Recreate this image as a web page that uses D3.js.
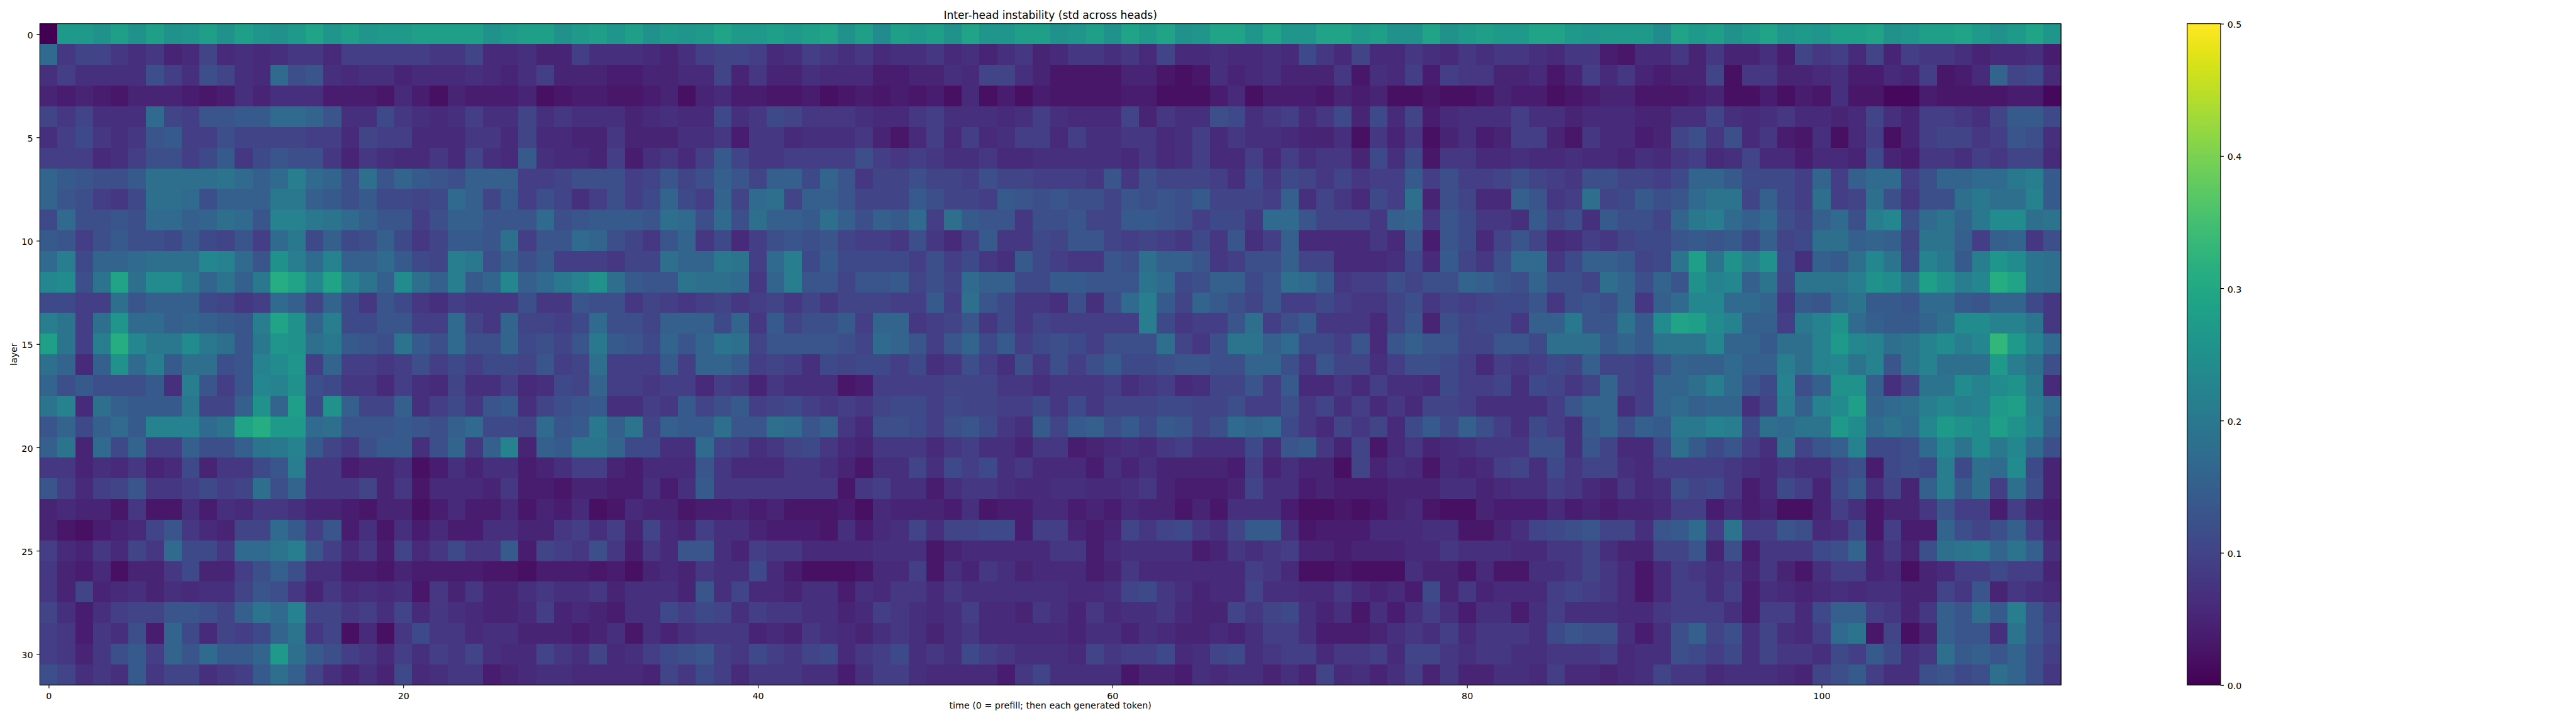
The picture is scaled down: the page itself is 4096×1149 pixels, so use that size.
<!DOCTYPE html>
<html><head><meta charset="utf-8">
<script src="https://cdn.jsdelivr.net/npm/d3@7"></script>
<style>html,body{margin:0;padding:0;background:#fff;overflow:hidden}svg{display:block}text{font-family:"DejaVu Sans",sans-serif;fill:#000}</style>
</head><body><svg id="c" width="4096" height="1149"></svg>
<script>
// std values, in hundredths, one array per layer (114 time steps)
const layer00=[0,27,27,25,28,25,28,25,26,28,25,28,26,25,27,29,26,28,26,27,27,28,28,28,28,25,27,28,28,25,
27,28,26,28,25,27,26,27,29,27,27,28,27,28,29,25,28,24,28,27,28,25,29,26,26,28,28,25,26,28,25,29,27,
29,25,26,29,29,26,29,26,26,29,29,27,28,25,25,29,25,27,28,27,27,29,29,27,26,27,27,27,24,29,27,28,
25,27,29,26,27,26,28,28,29,25,26,28,28,29,27,25,27,29,26];
const layer01=[17,8,10,10,8,7,8,5,6,10,6,7,6,7,8,8,6,9,9,9,9,9,8,8,10,6,6,7,5,5,
9,7,7,7,6,5,7,9,10,10,9,6,7,9,8,7,8,6,7,7,8,6,7,5,7,8,5,6,8,8,7,8,6,
10,6,6,7,6,6,7,6,11,8,6,10,6,6,8,7,6,8,7,8,8,7,6,8,8,4,3,6,6,8,5,8,
5,5,7,4,10,8,9,6,10,5,9,8,8,7,5,6,6,7,4];
const layer02=[7,9,7,7,7,7,12,9,7,12,10,7,6,17,12,13,7,6,7,7,5,6,6,6,7,6,5,7,9,5,
5,5,4,4,5,5,6,6,10,5,8,5,5,7,6,6,6,4,4,5,5,7,6,10,10,7,5,3,3,3,3,5,5,
3,2,3,7,5,6,7,5,5,5,8,3,7,6,9,4,9,8,8,5,5,6,3,5,9,6,8,5,4,5,5,10,
2,8,8,5,5,6,7,4,4,6,5,9,3,4,6,16,10,11,6];
const layer03=[5,4,5,4,3,5,5,5,4,3,4,7,5,7,7,7,4,4,4,3,6,4,2,5,4,4,4,5,2,3,
4,4,3,3,4,5,2,5,6,4,4,3,3,4,2,3,4,3,4,3,4,2,6,2,4,2,4,3,3,3,3,4,4,
2,2,2,4,6,2,4,4,4,3,5,4,5,2,2,3,2,2,3,5,4,4,2,3,4,5,5,3,3,3,4,5,
2,2,4,2,4,3,7,3,3,1,1,4,3,3,3,3,4,4,1];
const layer04=[10,8,10,7,7,7,17,10,9,13,13,14,14,17,17,16,13,7,7,11,8,7,6,7,9,7,7,10,7,8,
7,7,7,5,6,7,6,6,11,7,8,11,10,8,8,8,7,6,6,8,9,7,7,7,6,7,9,7,6,6,6,10,5,
8,7,7,12,11,7,8,9,6,8,11,5,11,6,10,4,6,7,7,7,9,7,7,5,6,6,6,5,5,7,7,10,
7,6,7,8,6,6,5,6,10,7,5,9,9,8,7,10,14,14,11];
const layer05=[7,9,11,8,7,8,13,14,9,9,12,10,10,10,10,9,9,6,10,9,9,6,6,6,8,8,6,10,6,6,
5,5,8,5,5,5,7,7,8,4,8,8,6,7,7,7,8,5,3,6,9,6,9,6,7,9,9,6,9,7,7,8,8,
6,7,9,6,8,7,7,6,5,5,7,2,8,5,8,2,5,7,4,5,9,9,5,3,8,6,6,4,5,10,12,8,
12,6,8,4,3,7,2,6,9,2,5,9,10,10,8,9,13,12,7];
const layer06=[9,9,9,6,7,9,12,12,9,11,14,8,11,13,12,12,8,5,8,7,6,6,8,6,10,7,6,14,7,6,
6,5,9,4,7,8,6,9,14,10,8,8,9,9,9,9,12,9,8,9,8,7,7,8,6,6,7,7,7,7,7,6,8,
6,7,9,6,6,9,6,9,7,8,8,5,11,7,11,3,8,8,6,6,7,6,6,7,6,6,5,7,6,8,9,6,
7,10,6,6,4,6,6,5,11,5,4,8,8,7,9,8,10,10,6];
const layer07=[16,14,13,12,12,14,18,18,18,18,19,17,15,17,21,17,16,12,18,13,16,14,13,12,15,15,15,9,9,10,
12,12,12,9,10,13,10,12,15,13,10,15,15,11,16,13,8,10,10,12,10,10,9,12,10,10,9,9,9,8,13,8,12,
10,10,10,9,7,11,8,11,10,8,10,8,9,9,14,9,12,9,9,10,12,10,9,8,12,12,10,10,9,11,16,16,
14,11,11,11,9,16,9,15,17,17,9,12,16,16,17,17,20,21,14];
const layer08=[16,13,12,9,8,11,18,18,17,12,15,15,15,20,20,15,14,12,14,11,11,10,11,17,15,10,14,9,12,10,
7,9,12,9,11,16,11,9,16,10,17,18,10,15,15,13,10,10,10,14,12,10,10,9,14,13,12,13,12,12,10,13,12,
13,12,14,10,10,10,9,15,7,10,8,6,11,9,18,5,12,10,6,6,15,13,8,9,18,10,11,14,12,13,17,19,
19,10,15,11,9,18,9,10,18,12,8,12,12,18,20,18,18,22,14];
const layer09=[11,17,12,12,13,12,17,17,15,16,18,17,13,22,22,20,19,17,15,13,13,9,12,15,15,13,13,13,17,12,
13,14,14,14,13,18,17,12,17,12,18,15,15,14,18,15,12,15,14,17,9,18,14,13,13,8,12,12,13,10,10,14,14,
13,12,9,11,11,8,17,17,13,10,10,10,8,15,16,8,13,11,8,8,7,14,10,12,7,14,12,12,10,16,20,21,
17,15,17,12,10,15,17,12,21,23,12,17,19,16,20,24,24,18,19];
const layer10=[14,13,9,12,14,12,12,11,14,11,10,13,9,17,20,11,15,11,12,15,11,8,10,14,14,13,18,9,13,13,
17,16,12,10,8,13,16,8,11,6,9,12,13,12,13,10,9,9,8,12,8,6,9,14,8,8,11,10,13,13,10,9,10,
9,8,11,8,13,7,9,15,6,6,6,6,8,6,13,4,13,11,6,10,13,10,6,7,9,8,10,11,11,13,14,13,
14,11,15,10,11,18,18,15,16,15,10,19,19,15,9,15,16,8,12];
const layer11=[17,21,11,16,16,17,18,18,18,23,22,17,13,25,21,17,22,15,15,17,14,11,10,21,20,12,15,12,14,9,
9,9,8,10,10,18,16,16,20,19,9,17,21,11,14,11,11,11,11,9,12,9,11,8,7,14,11,9,8,8,13,12,18,
15,15,13,8,9,12,12,15,10,10,6,6,6,7,11,6,14,10,8,12,17,17,8,11,15,15,14,10,11,19,28,19,
25,21,25,11,7,15,14,18,23,19,11,22,20,14,21,26,24,19,18];
const layer12=[23,24,12,19,29,18,24,24,20,16,19,15,20,31,29,23,29,22,19,15,24,18,15,21,14,16,23,15,17,20,
22,25,18,14,13,13,19,18,18,17,8,16,21,13,13,10,13,13,14,10,12,10,17,15,15,11,11,14,14,13,13,13,19,
17,11,12,15,15,11,13,18,17,14,8,9,9,12,10,12,12,16,15,13,12,16,12,12,10,18,16,12,16,13,25,22,
23,15,19,10,19,19,19,21,25,24,19,28,25,21,23,31,29,19,18];
const layer13=[11,11,9,9,18,13,15,15,15,11,10,8,9,17,15,10,16,11,8,13,11,8,7,9,8,8,8,12,8,8,
13,12,12,8,10,9,8,9,10,8,9,10,8,10,8,10,10,10,9,9,14,9,18,13,11,8,8,7,12,7,12,17,21,
14,10,16,14,12,10,13,9,9,11,9,8,8,10,12,8,10,9,10,11,11,13,8,12,13,12,16,8,15,17,23,23,
17,17,16,8,14,13,17,19,14,14,13,17,17,14,13,16,16,11,8];
const layer14=[21,19,9,18,26,17,17,15,16,15,14,13,21,29,25,16,21,11,11,13,13,9,9,17,10,8,16,10,10,9,
11,17,12,12,10,15,15,15,11,16,8,14,10,12,12,14,9,16,16,8,9,10,13,8,11,8,10,9,9,9,9,9,21,
11,8,9,9,13,18,9,12,14,8,8,8,6,10,13,5,12,10,11,11,8,15,15,20,13,13,19,14,24,29,28,24,
22,15,15,9,20,22,25,17,15,14,14,16,18,24,24,22,22,19,8];
const layer15=[28,19,9,21,31,23,20,20,24,20,18,13,20,26,25,18,20,14,13,12,19,14,12,17,12,12,16,11,12,10,
13,20,14,13,11,16,13,16,19,18,10,13,13,13,13,12,10,17,16,13,9,13,16,11,14,9,11,12,11,9,12,12,12,
18,10,8,12,19,19,15,17,11,11,9,13,6,13,15,13,13,10,10,13,13,11,18,18,18,14,16,14,19,19,19,23,
16,16,14,18,18,22,27,23,22,18,19,22,24,21,23,33,27,22,17];
const layer16=[18,16,6,15,25,17,21,14,18,18,12,13,22,24,26,9,16,9,9,8,9,12,9,11,9,11,11,10,13,9,
10,18,9,9,9,14,9,16,16,14,9,10,9,7,11,10,11,11,9,11,7,8,12,9,7,12,8,12,9,12,14,11,11,
12,13,13,12,12,16,16,12,8,13,10,10,7,9,12,12,11,9,6,9,8,9,11,10,15,10,10,9,13,16,15,15,
17,15,15,21,18,22,23,19,22,13,19,22,18,18,18,27,21,18,12];
const layer17=[16,12,14,12,12,12,14,7,21,13,9,13,23,22,25,12,11,8,8,6,9,7,6,10,7,7,9,6,7,11,
10,16,9,9,8,9,9,6,9,8,5,8,7,7,7,3,4,9,9,9,9,10,10,10,8,8,7,8,8,8,9,7,8,
9,6,7,10,10,13,9,14,6,6,8,6,9,7,7,6,11,9,9,10,7,11,10,8,10,16,10,9,16,16,18,21,
17,13,11,22,12,15,25,25,15,7,10,19,19,24,22,24,25,20,6];
const layer18=[19,22,6,18,15,14,14,14,20,10,10,15,25,16,28,11,25,15,10,10,15,7,9,11,8,13,14,7,10,12,
13,14,7,7,9,8,14,10,12,14,9,10,11,9,8,9,8,10,11,11,9,11,10,10,9,9,11,8,11,8,10,10,10,
11,11,10,10,12,9,9,12,8,10,7,9,6,8,6,10,10,9,7,7,7,7,9,13,16,16,7,9,16,17,15,16,
16,7,10,21,15,22,24,28,16,17,18,21,23,21,22,27,28,21,17];
const layer19=[13,16,11,15,17,14,22,22,22,17,19,29,31,27,27,17,18,13,13,13,14,13,12,15,17,11,11,10,17,13,
14,20,15,19,10,15,14,14,18,13,13,18,17,13,15,8,6,12,12,11,9,12,13,11,8,7,14,10,14,15,12,14,11,
14,13,10,12,17,16,17,11,8,6,10,8,10,6,11,14,11,15,12,9,7,11,9,7,14,16,12,15,14,20,20,22,
21,11,18,17,19,19,27,24,17,19,17,23,27,25,24,28,25,22,15];
const layer20=[15,19,5,17,11,16,9,9,15,12,12,15,19,20,22,14,10,8,12,14,14,7,12,16,8,15,22,5,15,14,
19,19,16,11,11,7,7,17,10,9,7,8,10,11,8,6,5,8,8,8,6,8,9,7,7,5,8,8,4,5,6,7,6,
8,9,7,7,7,11,7,13,14,8,5,10,3,6,8,5,6,7,8,8,8,12,12,7,13,10,6,6,11,18,14,11,
13,9,7,18,10,13,15,22,11,11,12,17,23,19,24,20,23,17,12];
const layer21=[8,8,5,7,6,8,5,6,11,5,8,8,11,13,21,8,8,4,5,5,7,2,4,7,5,7,7,4,5,7,
9,9,5,4,6,6,6,13,8,6,6,6,8,8,7,5,3,7,7,10,7,11,9,11,7,8,6,6,6,4,7,5,7,
5,5,5,5,4,9,5,7,5,5,2,10,5,7,6,3,6,5,6,9,10,7,11,8,10,10,7,6,9,9,9,9,
8,7,6,8,7,7,10,12,4,11,12,11,21,11,18,17,24,11,5];
const layer22=[13,9,6,9,10,13,8,8,9,11,9,10,18,12,16,8,8,8,10,5,8,3,6,6,6,5,8,4,4,3,
5,5,4,4,7,4,7,14,8,8,8,8,8,8,8,3,8,9,7,7,4,7,8,8,7,6,6,7,7,6,6,7,8,
5,4,4,4,5,10,7,7,4,5,4,4,4,5,5,5,7,7,5,6,7,7,9,8,6,5,8,6,7,12,10,11,
8,4,6,11,9,5,11,14,7,10,5,15,21,14,18,9,18,12,5];
const layer23=[5,6,5,5,3,8,3,3,7,4,7,6,8,8,7,5,5,4,3,5,5,2,4,6,4,4,6,3,5,4,
6,2,3,6,5,5,3,4,4,5,4,5,3,3,3,4,2,6,5,5,5,4,7,3,4,4,6,6,4,5,4,6,5,
5,3,5,3,7,7,7,4,2,2,3,2,3,5,6,3,2,2,5,4,4,4,6,4,5,4,5,5,6,9,9,4,
6,4,5,2,2,5,9,7,3,5,5,8,13,9,9,4,9,5,4];
const layer24=[5,3,2,4,5,6,10,13,8,6,5,10,10,17,14,9,13,4,7,3,7,4,6,4,4,7,7,5,5,8,
9,7,9,5,10,6,5,9,7,7,5,4,4,4,3,7,4,6,7,10,7,10,10,11,11,4,9,9,5,4,5,10,8,
10,11,8,7,10,14,14,7,3,4,4,4,6,6,6,7,7,3,3,5,7,10,11,12,13,10,10,7,13,14,17,9,
19,9,9,13,12,6,7,11,3,9,4,4,16,12,10,12,15,9,5];
const layer25=[9,6,5,8,6,10,8,17,11,11,8,17,17,19,21,13,9,6,8,4,10,6,8,11,8,8,14,4,10,9,
8,12,8,4,8,6,13,13,7,5,9,8,8,6,6,6,6,7,7,7,3,5,6,6,6,6,6,8,8,4,6,7,7,
7,7,4,5,8,7,8,9,5,5,4,5,5,5,6,6,8,7,7,7,6,6,8,8,10,7,5,5,10,10,13,5,
12,4,8,8,8,11,12,16,5,8,5,12,18,19,20,16,19,15,7];
const layer26=[8,5,4,6,2,5,5,8,11,5,5,9,12,15,12,7,7,4,4,3,5,4,4,4,4,3,3,2,4,4,
4,3,4,2,5,6,5,8,7,7,11,6,4,2,2,2,3,6,6,9,3,7,5,8,7,5,6,6,6,4,5,8,6,
6,6,6,6,6,9,8,6,2,2,3,2,2,2,7,5,5,3,6,3,3,7,7,8,10,8,6,3,6,9,8,7,
8,5,8,5,3,7,9,9,5,6,2,5,6,9,9,11,9,9,5];
const layer27=[8,5,10,5,6,7,5,7,6,7,7,10,13,12,8,5,8,6,7,6,7,3,8,5,8,5,5,7,8,7,
7,8,5,7,7,7,5,13,7,10,6,6,5,7,7,4,7,6,8,8,6,8,7,7,7,7,7,7,6,6,7,10,11,
8,7,5,6,6,10,7,7,6,6,8,6,5,6,4,11,5,8,5,6,6,6,9,10,9,8,6,3,6,9,9,7,
9,4,7,6,5,6,7,6,7,7,5,5,10,8,13,5,8,7,6];
const layer28=[10,7,4,7,9,10,10,13,13,12,10,15,19,17,22,10,10,8,9,7,10,6,8,7,6,5,5,6,9,5,
6,5,4,7,7,11,9,11,10,7,9,8,8,7,7,5,6,9,8,7,6,7,9,6,6,5,8,7,5,8,6,7,7,
8,6,5,5,10,8,10,11,7,5,7,3,7,4,7,9,7,4,7,7,4,7,9,7,7,7,6,6,8,9,9,9,
7,4,9,9,6,11,15,15,9,8,5,8,15,13,18,14,21,13,9];
const layer29=[9,8,4,8,7,12,4,16,11,6,10,9,11,16,19,8,10,2,6,2,8,11,8,8,6,7,7,5,5,5,
4,5,7,3,7,5,7,8,8,8,5,6,5,8,7,6,5,7,8,7,5,7,8,6,6,6,6,6,5,7,7,5,7,
6,5,5,6,5,7,9,9,7,4,4,4,5,7,8,7,9,6,8,8,8,7,11,13,12,12,7,4,7,12,15,10,
12,7,10,7,6,9,17,19,3,10,2,5,15,13,13,7,19,13,10];
const layer30=[9,8,5,8,12,14,9,16,13,17,14,14,16,27,18,14,12,9,8,6,9,7,9,8,10,7,6,6,10,8,
7,10,6,7,9,11,12,13,9,8,11,9,8,10,11,6,8,9,11,7,8,7,11,9,8,7,7,7,6,10,8,9,9,
11,6,7,10,11,7,8,9,9,6,8,8,9,6,10,10,8,7,8,8,7,7,8,8,8,9,6,7,7,12,11,9,
11,7,10,8,8,7,11,9,14,11,7,8,18,14,15,13,16,12,9];
const layer31=[12,10,7,8,7,14,8,10,10,7,8,9,14,18,15,10,7,5,7,5,11,6,7,8,8,4,5,6,7,7,
6,6,6,6,5,10,8,11,9,6,8,8,8,7,7,4,7,9,9,7,6,6,6,6,4,8,10,7,7,7,7,3,5,
5,4,7,6,7,7,5,7,5,10,6,7,5,7,9,5,8,5,5,7,7,6,9,6,6,5,6,7,10,8,8,6,
7,7,7,6,5,10,12,14,9,7,7,12,13,11,12,18,16,12,8];
const layers=[layer00,layer01,layer02,layer03,layer04,layer05,layer06,layer07,layer08,layer09,layer10,layer11,layer12,layer13,layer14,layer15,layer16,layer17,layer18,layer19,layer20,layer21,layer22,layer23,layer24,layer25,layer26,layer27,layer28,layer29,layer30,layer31];
const xTicks=[0,20,40,60,80,100];
const yTicks=[0,5,10,15,20,25,30];
const colorTicks=[0,0.1,0.2,0.3,0.4,0.5];
const titleText="Inter-head instability (std across heads)";
const xLabelText="time (0 = prefill; then each generated token)";
const yLabelText="layer";

const K=4096/7182;
const L=111*K,R=5746*K,T=66*K,B=1909*K,CL=6098*K,CR=6191*K;
const FS=25*K,TFS=30*K,LW=2*K,TL=9*K;
const svg=d3.select("#c");
const x=d3.scaleLinear().domain([-0.5,113.5]).range([L,R]);
const y=d3.scaleLinear().domain([-0.5,31.5]).range([T,B]);
const color=d3.scaleSequential(d3.interpolateViridis).domain([0,0.5]);
const cells=layers.flatMap((r,i)=>r.map((v,j)=>({i,j,v:v/100})));
svg.append("g").attr("shape-rendering","crispEdges").selectAll("rect").data(cells).join("rect")
 .attr("x",d=>x(d.j-0.5)).attr("y",d=>y(d.i-0.5))
 .attr("width",d=>x(d.j+0.5)-x(d.j-0.5)+0.5).attr("height",d=>y(d.i+0.5)-y(d.i-0.5)+0.5)
 .attr("fill",d=>color(d.v));
function style(g,dy){
 g.selectAll("text").attr("font-size",FS).attr("font-family",'"DejaVu Sans"').attr("fill","#000");
 if(dy) g.selectAll("text").attr("dy",dy);
 g.selectAll("line").attr("stroke","#000").attr("stroke-width",LW);
 g.select(".domain").remove();
}
svg.append("g").attr("transform",`translate(0,${B})`)
 .call(d3.axisBottom(x).tickValues(xTicks).tickFormat(d3.format("d")).tickSize(TL).tickPadding(7))
 .call(g=>style(g));
svg.append("g").attr("transform",`translate(${L},0)`)
 .call(d3.axisLeft(y).tickValues(yTicks).tickFormat(d3.format("d")).tickSize(TL).tickPadding(5.7))
 .call(g=>style(g,"0.43em"));
svg.append("rect").attr("x",L).attr("y",T).attr("width",R-L).attr("height",B-T)
 .attr("fill","none").attr("stroke","#000").attr("stroke-width",LW);

// colour bar
const cy=d3.scaleLinear().domain([0,0.5]).range([B,T]);
const steps=d3.range(256);
svg.append("g").attr("shape-rendering","crispEdges").selectAll("rect").data(steps).join("rect")
 .attr("x",CL).attr("width",CR-CL)
 .attr("y",s=>cy((s+1)/256*0.5)).attr("height",s=>cy(s/256*0.5)-cy((s+1)/256*0.5)+0.5)
 .attr("fill",s=>color((s+0.5)/256*0.5));
svg.append("rect").attr("x",CL).attr("y",T).attr("width",CR-CL).attr("height",B-T)
 .attr("fill","none").attr("stroke","#000").attr("stroke-width",LW);
svg.append("g").attr("transform",`translate(${CR},0)`)
 .call(d3.axisRight(cy).tickValues(colorTicks).tickFormat(d3.format(".1f")).tickSize(TL).tickPadding(5.7))
 .call(g=>style(g,"0.43em"));

svg.append("text").attr("x",(L+R)/2).attr("y",52*K).attr("text-anchor","middle").attr("font-size",TFS).text(titleText);
svg.append("text").attr("x",(L+R)/2).attr("y",1975*K).attr("text-anchor","middle").attr("font-size",FS).text(xLabelText);
svg.append("text").attr("transform",`translate(${47*K},${(T+B)/2}) rotate(-90)`).attr("text-anchor","middle").attr("font-size",FS).text(yLabelText);
</script></body></html>
